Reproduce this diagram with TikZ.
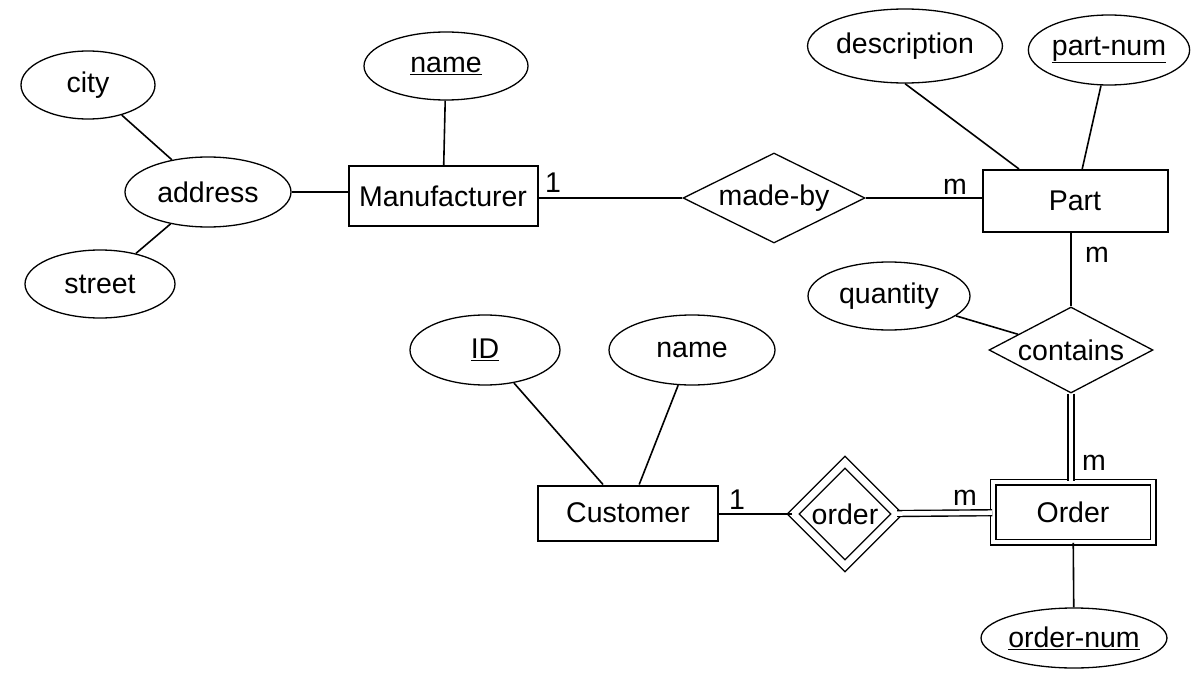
\documentclass[tikz,border=0pt]{standalone}
\usepackage{fontspec}
\setmainfont{Liberation Sans}
\usetikzlibrary{shapes.geometric}

\begin{document}
\begin{tikzpicture}[x=1pt,y=-1pt,
  font=\fontsize{28.5}{33}\selectfont,
  attr/.style={draw,ellipse,inner sep=0pt,line width=1.3pt},
  ent/.style={draw,rectangle,inner sep=0pt,line width=2pt},
  rel/.style={draw,diamond,shape aspect=2,inner sep=0pt,line width=1.3pt},
  link/.style={line width=1.6pt},
  dbl/.style={double,double distance=4.5pt,line width=1.4pt}]
\useasboundingbox (0,0) rectangle (1203,677);
\node[attr,minimum width=134pt,minimum height=68pt] (city) at (88,85) {city};
\node[attr,minimum width=166pt,minimum height=70pt] (address) at (208,192) {address};
\node[attr,minimum width=150pt,minimum height=68pt] (street) at (100,284) {street};
\node[attr,minimum width=164pt,minimum height=68pt] (mname) at (446,66) {\underline{name}};
\node[ent,minimum width=189pt,minimum height=60pt] (man) at (443,196) {Manufacturer};
\node[rel,minimum width=182pt,minimum height=90pt] (madeby) at (774,198) {made-by};
\node[ent,minimum width=185pt,minimum height=62pt] (part) at (1075,201) {Part};
\node[attr,minimum width=164pt,minimum height=74pt] (desc) at (905,46) {description};
\node[attr,minimum width=158pt,minimum height=70pt] (pnum) at (1109,50) {\underline{part-num}};
\node[attr,minimum width=162pt,minimum height=68pt] (qty) at (889,296) {quantity};
\node[rel,minimum width=164pt,minimum height=86pt] (contains) at (1071,350) {contains};
\node[ent,double,double distance=4pt,line width=1.5pt,minimum width=160pt,minimum height=60pt] (order) at (1073,512) {Order};
\node[attr,minimum width=162pt,minimum height=60pt] (onum) at (1074,638) {\underline{order-num}};
\node[rel,shape aspect=1,double,double distance=7pt,minimum width=104pt,minimum height=104pt] (ord) at (845,514) {order};
\node[ent,minimum width=180pt,minimum height=55pt] (cust) at (628,513) {Customer};
\node[attr,minimum width=150pt,minimum height=70pt] (cid) at (485,350) {\underline{ID}};
\node[attr,minimum width=166pt,minimum height=70pt] (cname) at (692,350) {name};
\node (c1) at (553,183) {1};
\node (c2) at (955,187) {m};
\node (c3) at (1097,255) {m};
\node (c4) at (1094,463) {m};
\node (c5) at (737,500) {1};
\node (c6) at (965,498) {m};
\draw[link] (city) -- (address);
\draw[link] (address) -- (street);
\draw[link] (address) -- (address -| man.west);
\draw[link] (mname) -- (man);
\draw[link] (madeby.west) -- (madeby.west -| man.east);
\draw[link] (madeby) -- (madeby -| part.west);
\draw[link] (desc.south) -- ([xshift=-56pt]part.north);
\draw[link] (pnum) -- (part);
\draw[link] (contains) -- (contains |- part.south);
\draw[link] (qty) -- (contains);
\draw[dbl] (contains) -- (contains |- order.north);
\draw[link] (order) -- (onum);
\draw[dbl] (ord) -- (order);
\draw[link] (ord) -- (ord -| cust.east);
\draw[link] (cid) -- (cust);
\draw[link] (cname) -- (cust);
\end{tikzpicture}
\end{document}
